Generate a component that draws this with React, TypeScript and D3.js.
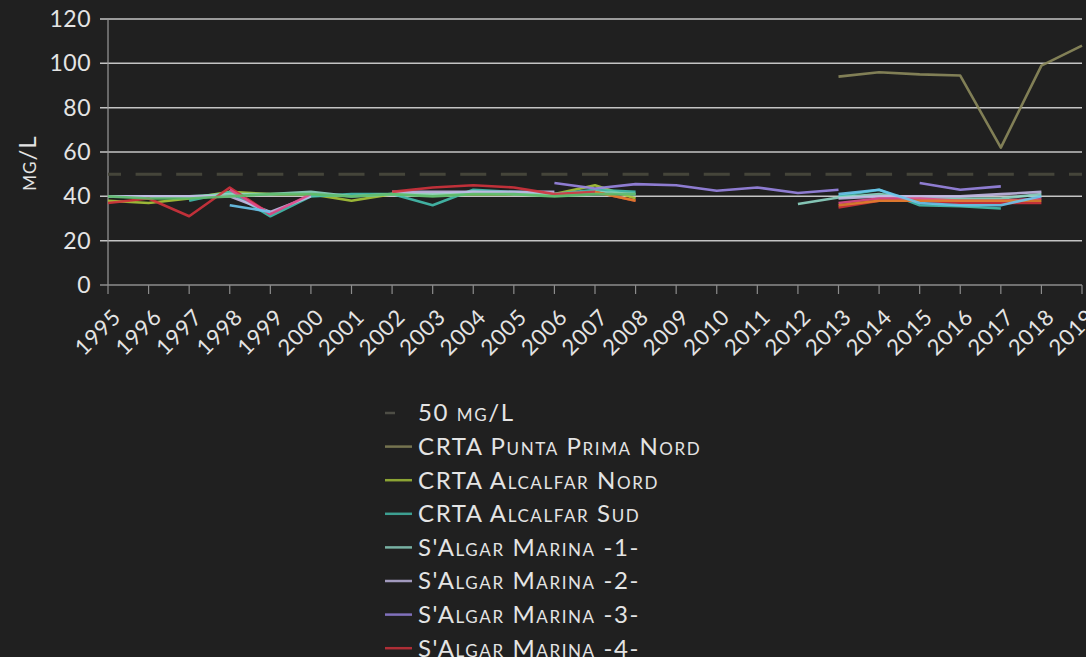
import { useEffect, useRef } from 'react';
import * as d3 from 'd3';

const n = null;

// x categories (years)
const years = [1995, 1996, 1997, 1998, 1999, 2000, 2001, 2002, 2003, 2004, 2005, 2006, 2007,
  2008, 2009, 2010, 2011, 2012, 2013, 2014, 2015, 2016, 2017, 2018, 2019];
const yTicks = [0, 20, 40, 60, 80, 100, 120];
const limitValue = 50;

// nitrate values (mg/L), one per year, null = no sample
const puntaPrimaNord = [n, n, n, n, n, n, n, n, n, n, n, n, n, n, n, n, n, n, 94, 96, 95, 94.5, 62, 99, 108];
const alcalfarNord = [38, 37, 39, 42, 41, 41, 38, 41, 41, 41, 41, 41, 45, 39, n, n, n, n, n, n, n, n, n, n, n];
const alcalfarSud = [n, n, 38, 42, 31, 40, 41, 41, 36, 43, 42, 41, 43, 42, n, n, n, n, 40, 43, 36, 35.5, 34.5, n, n];
const marina1 = [40, 40, 40, 41, 41, 42, 40, 41, 41, 42, 41, 41, 42, 41, n, n, n, 36.5, 39.5, 41, 39, 39, 39, 41, n];
const marina2 = [40, 40, 40, 40, 33, 40, n, 42, 42, 42, 42, 42, n, n, n, n, n, n, 39, 40, 40, 40, 41, 42, n];
const marina3 = [n, n, n, n, n, n, n, n, n, n, n, 46, 43.5, 45.5, 45, 42.5, 44, 41.5, 43, n, 46, 43, 44.5, n, n];
const marina4 = [37, 39, 31, 44, 32, n, n, 42, 44, 45, 44, 41, 42, 38, n, n, n, n, 35, 38, 38, 37, 37, 37, n];
const marina5 = [n, n, n, 43, 32, 41, n, n, n, n, n, n, n, n, n, n, n, n, 37, 39, 39, 38, 38, 39, n];
const marina6 = [n, n, n, n, n, n, n, n, n, n, n, n, 42, 38, n, n, n, n, 36, 38, 38, 38, 38, 38, n];
const marina7 = [n, n, n, 36, 33, n, n, n, n, n, n, n, n, n, n, n, n, n, 41, 43, 37, 36, 36, 40, n];
const marina8 = [40, 39, 39, 40, 41, 41, 40, 41, 40, 41, 41, 40, 41, 41, n, 42, n, n, n, n, n, n, n, n, n];

const seriesNames = ['CRTA Punta Prima Nord', 'CRTA Alcalfar Nord', 'CRTA Alcalfar Sud',
  "S'Algar Marina -1-", "S'Algar Marina -2-", "S'Algar Marina -3-", "S'Algar Marina -4-",
  "S'Algar Marina -5-", "S'Algar Marina -6-", "S'Algar Marina -7-", "S'Algar Marina -8-"];
const seriesValues = [puntaPrimaNord, alcalfarNord, alcalfarSud, marina1, marina2, marina3, marina4,
  marina5, marina6, marina7, marina8];
const seriesColors = ['#8c8a5c', '#a8c63a', '#45bfae', '#8fd6c4', '#c3b9e6', '#9a86e4', '#d2323c',
  '#e04a8a', '#e0802e', '#6cc6ee', '#5cba6a'];

const W = 1086;
const H = 657;
const FONT = "Lato, 'Noto Sans', sans-serif";
const INK = '#e4e4e4';

const App = () => {
  const svgRef = useRef<SVGSVGElement | null>(null);

  useEffect(() => {
    const svg = d3.select(svgRef.current);
    svg.selectAll('*').remove();

    const x = d3.scaleLinear().domain([years[0], years[years.length - 1]]).range([108, 1082]);
    const y = d3.scaleLinear().domain([0, 120]).range([285, 19]);
    const step = x(1996) - x(1995);

    svg.append('rect').attr('width', W).attr('height', H).attr('fill', '#202020');

    // horizontal grid
    svg.append('g').selectAll('line')
      .data(yTicks.filter(t => t > 0))
      .enter().append('line')
      .attr('x1', 100).attr('x2', 1082)
      .attr('y1', d => y(d)).attr('y2', d => y(d))
      .attr('stroke', '#c4c4c4').attr('stroke-width', 1.5);

    // axes
    svg.append('line').attr('x1', 108).attr('x2', 108).attr('y1', y(120)).attr('y2', y(0))
      .attr('stroke', '#9a9a9a').attr('stroke-width', 1.2);
    svg.append('line').attr('x1', 100).attr('x2', 1082).attr('y1', y(0)).attr('y2', y(0))
      .attr('stroke', '#8c8c8c').attr('stroke-width', 1.5);
    svg.append('g').selectAll('line')
      .data(years)
      .enter().append('line')
      .attr('x1', d => x(d)).attr('x2', d => x(d))
      .attr('y1', y(0)).attr('y2', y(0) + 9)
      .attr('stroke', '#8c8c8c').attr('stroke-width', 1.2);

    // y tick labels
    svg.append('g').selectAll('text')
      .data(yTicks)
      .enter().append('text')
      .attr('x', 91).attr('y', d => y(d))
      .attr('dy', '0.35em')
      .attr('text-anchor', 'end')
      .style('font-family', FONT).style('font-size', '23px').style('fill', INK)
      .style('letter-spacing', '0.5px')
      .text(d => d);

    // x tick labels, rotated
    svg.append('g').selectAll('text')
      .data(years)
      .enter().append('text')
      .attr('transform', d => `translate(${x(d) + 9},${y(0) + 28}) rotate(-45)`)
      .attr('text-anchor', 'end')
      .attr('dy', '0.35em')
      .style('font-family', FONT).style('font-size', '22px').style('fill', INK)
      .style('letter-spacing', '0.8px')
      .text(d => d);

    // y axis title
    svg.append('text')
      .attr('transform', `translate(28,${y(55)}) rotate(-90)`)
      .attr('text-anchor', 'middle')
      .attr('dy', '0.35em')
      .style('font-family', FONT).style('font-size', '24px').style('fill', INK)
      .style('font-variant', 'small-caps').style('letter-spacing', '1px')
      .text('mg/L');

    // 50 mg/L limit, dashes centred on each year
    svg.append('line')
      .attr('x1', x(1995)).attr('x2', x(2019))
      .attr('y1', y(limitValue)).attr('y2', y(limitValue))
      .attr('stroke', '#45453a').attr('stroke-width', 3)
      .attr('stroke-dasharray', `26 ${step - 26}`)
      .attr('stroke-dashoffset', 13);

    // data lines
    const line = d3.line<number | null>()
      .defined(d => d != null)
      .x((_, i) => x(years[i]))
      .y(d => y(d as number));

    svg.append('g').selectAll('path')
      .data(seriesValues)
      .enter().append('path')
      .attr('d', d => line(d))
      .attr('fill', 'none')
      .attr('stroke', (_, i) => seriesColors[i])
      .attr('stroke-width', 2.6)
      .attr('stroke-linejoin', 'round')
      .attr('stroke-opacity', 0.9);

    // legend
    const legend = svg.append('g');
    const rows = [{ name: `${limitValue} mg/L`, color: '#5a5a50', dash: true },
      ...seriesNames.map((s, i) => ({ name: s, color: seriesColors[i], dash: false }))];
    rows.forEach((r, i) => {
      const ly = 413 + i * 33.6;
      legend.append('line')
        .attr('x1', 385).attr('x2', r.dash ? 395 : 412)
        .attr('y1', ly).attr('y2', ly)
        .attr('stroke', r.color).attr('stroke-width', 2.5)
        .attr('stroke-opacity', 0.8);
      legend.append('text')
        .attr('x', 418).attr('y', ly)
        .attr('dy', '0.35em')
        .style('font-family', FONT).style('font-size', '24px').style('fill', INK)
        .style('font-variant', 'small-caps').style('letter-spacing', '1.6px')
        .text(r.name);
    });
  }, []);

  return (
    <svg ref={svgRef} width={W} height={H}
      style={{ position: 'absolute', left: 0, top: 0, display: 'block' }} />
  );
};

export default App;
